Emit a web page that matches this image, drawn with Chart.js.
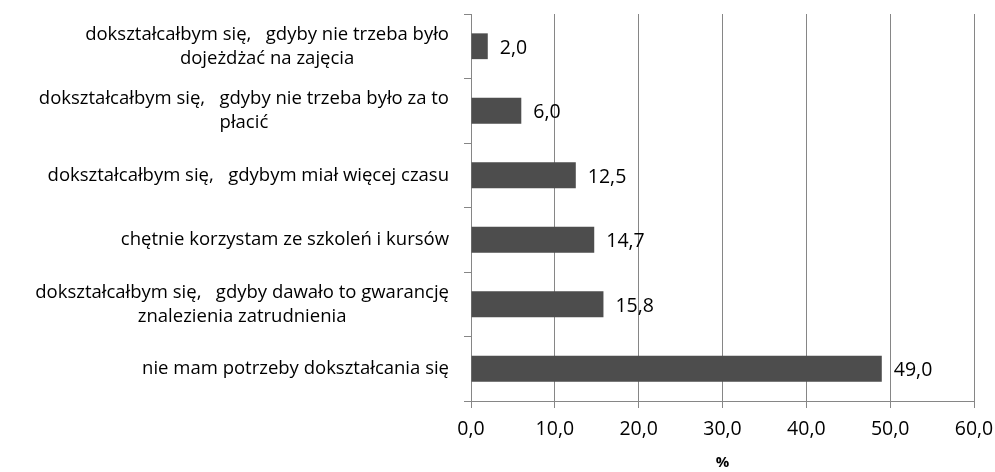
<!DOCTYPE html>
<html>
<head>
<meta charset="utf-8">
<script src="https://cdn.jsdelivr.net/npm/chart.js@4"></script>
<style>
html,body{margin:0;padding:0;background:#fff;}
#wrap{width:995px;height:472px;position:relative;}
</style>
</head>
<body>
<div id="wrap"><canvas id="c" width="995" height="472"></canvas></div>
<script>
const categories = [
  ["dokształcałbym się,   gdyby nie trzeba było", "dojeżdżać na zajęcia"],
  ["dokształcałbym się,   gdyby nie trzeba było za to", "płacić"],
  ["dokształcałbym się,   gdybym miał więcej czasu"],
  ["chętnie korzystam ze szkoleń i kursów"],
  ["dokształcałbym się,   gdyby dawało to gwarancję", "znalezienia zatrudnienia"],
  ["nie mam potrzeby dokształcania się"]
];
const values = [2.0, 6.0, 12.5, 14.7, 15.8, 49.0];
const xTicks = [0, 10, 20, 30, 40, 50, 60];
const axisTitle = "%";

const FONT = "'Open Sans'";
const FS_CAT = 18.5;
const FS_NUM = 19.5;
const fmt = v => v.toFixed(1).replace('.', ',');

const labelPlugin = {
  id: 'customLabels',
  afterDatasetsDraw(chart) {
    const ctx = chart.ctx;
    const meta = chart.getDatasetMeta(0);
    ctx.save();
    ctx.font = FS_NUM + "px " + FONT;
    ctx.fillStyle = "#000";
    ctx.textAlign = "left";
    ctx.textBaseline = "middle";
    meta.data.forEach((bar, i) => {
      ctx.fillText(fmt(values[i]), bar.x + 12, bar.y + 2);
    });
    // y-axis category labels: centered lines, block right-aligned
    ctx.font = FS_CAT + "px " + FONT;
    const y = chart.scales.y;
    const right = chart.chartArea.left - 22;
    const lh = 24;
    categories.forEach((lines, i) => {
      const cy = y.getPixelForValue(i);
      const widths = lines.map(l => ctx.measureText(l).width);
      const maxW = Math.max(...widths);
      const cx = right - maxW / 2;
      ctx.textAlign = "center";
      const startY = cy - (lines.length - 1) * lh / 2;
      lines.forEach((l, k) => ctx.fillText(l, cx, startY + k * lh));
    });
    ctx.restore();
  }
};

new Chart(document.getElementById('c'), {
  type: 'bar',
  data: {
    labels: categories.map(c => c.join(' ')),
    datasets: [{
      data: values,
      backgroundColor: '#4d4d4d',
      borderColor: '#4d4d4d',
      borderWidth: 0,
      barPercentage: 0.8,
      categoryPercentage: 0.5
    }]
  },
  options: {
    indexAxis: 'y',
    responsive: false,
    animation: false,
    devicePixelRatio: 1,
    layout: { padding: { top: 14, right: 21, left: 0, bottom: 0 } },
    plugins: { legend: { display: false }, tooltip: { enabled: false } },
    scales: {
      x: {
        type: 'linear',
        min: 0, max: 60,
        afterBuildTicks(scale) { scale.ticks = xTicks.map(v => ({ value: v })); },
        afterFit(scale) { scale.height = 71; scale.paddingRight = 0; scale.paddingLeft = 0; },
        ticks: {
          font: { family: FONT, size: FS_NUM },
          color: '#000',
          padding: 10,
          maxRotation: 0,
          callback: v => fmt(v)
        },
        grid: { color: '#868686', lineWidth: 1, tickLength: 7, drawTicks: true },
        border: { display: true, color: '#868686' },
        title: { display: true, text: axisTitle, font: { family: FONT, size: 15, weight: 'bold' }, color: '#000', padding: { top: 4, bottom: 0 } }
      },
      y: {
        type: 'category',
        offset: true,
        afterFit(scale) { scale.width = 471; },
        ticks: { display: false },
        grid: { offset: true, drawOnChartArea: false, drawTicks: true, tickLength: 7, color: '#868686' },
        border: { display: true, color: '#868686' }
      }
    }
  },
  plugins: [labelPlugin]
});
</script>
</body>
</html>
